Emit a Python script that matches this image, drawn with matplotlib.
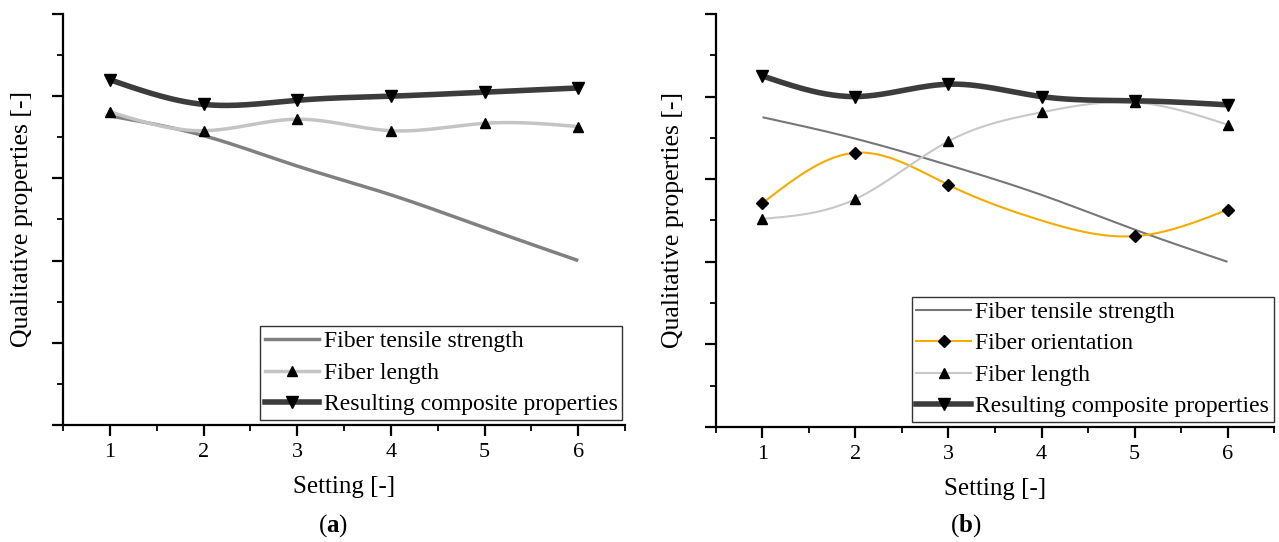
import numpy as np
import matplotlib
matplotlib.use("Agg")
import matplotlib.pyplot as plt
from matplotlib.ticker import MultipleLocator, NullFormatter

plt.rcParams['font.family'] = ['Liberation Serif', 'DejaVu Serif']
plt.rcParams['mathtext.fontset'] = 'custom'
plt.rcParams['mathtext.rm'] = 'Liberation Serif'
plt.rcParams['mathtext.bf'] = 'Liberation Serif:bold'

# ---------------------------------------------------------------- data
settings = [1, 2, 3, 4, 5, 6]

# panel (a)
a_tensile = [3.76, 3.52, 3.15, 2.80, 2.40, 2.00]
a_length = [3.81, 3.58, 3.72, 3.58, 3.67, 3.63]
a_result = [4.20, 3.90, 3.95, 4.00, 4.05, 4.10]

# panel (b)
b_tensile = [3.75, 3.49, 3.17, 2.81, 2.39, 2.00]
b_orient = [2.71, 3.32, 2.93, 2.50, 2.31, 2.63]
b_length = [2.52, 2.76, 3.46, 3.81, 3.93, 3.66]
b_result = [4.25, 4.00, 4.15, 4.00, 3.95, 3.90]

labels_a = ["Fiber tensile strength", "Fiber length", "Resulting composite properties"]
labels_b = ["Fiber tensile strength", "Fiber orientation", "Fiber length",
            "Resulting composite properties"]


def spline(x, y, n=200):
    # natural cubic spline, only used to draw the smoothed connecting line
    x = np.asarray(x, float)
    y = np.asarray(y, float)
    k = len(x)
    h = np.diff(x)
    A = np.zeros((k, k))
    r = np.zeros(k)
    A[0, 0] = A[-1, -1] = 1
    for i in range(1, k - 1):
        A[i, i - 1] = h[i - 1]
        A[i, i] = 2 * (h[i - 1] + h[i])
        A[i, i + 1] = h[i]
        r[i] = 3 * ((y[i + 1] - y[i]) / h[i] - (y[i] - y[i - 1]) / h[i - 1])
    c = np.linalg.solve(A, r)
    xs = np.linspace(x[0], x[-1], n)
    idx = np.clip(np.searchsorted(x, xs) - 1, 0, k - 2)
    dx = xs - x[idx]
    b = (y[1:] - y[:-1]) / h - h * (2 * c[:-1] + c[1:]) / 3
    d = (c[1:] - c[:-1]) / (3 * h)
    ys = y[idx] + b[idx] * dx + c[idx] * dx ** 2 + d[idx] * dx ** 3
    return xs, ys


def series(ax, y, color, lw, marker=None, ms=7, label=None, smooth=True, markidx=None):
    if smooth:
        xs, ys = spline(settings, y)
    else:
        xs, ys = settings, y
    ax.plot(xs, ys, color=color, lw=lw, solid_capstyle='butt', zorder=2)
    if marker:
        xm = settings if markidx is None else [settings[i] for i in markidx]
        ym = y if markidx is None else [y[i] for i in markidx]
        ax.plot(xm, ym, ls='none', marker=marker, ms=ms, color='black', zorder=3)
    # proxy for legend
    ax.plot([], [], color=color, lw=lw, marker=marker, ms=ms, mfc='black', mec='black',
            label=label)


def style_axes(ax, ylab_x):
    ax.set_xlim(0.5, 6.5)
    ax.set_ylim(0, 5)
    ax.spines['top'].set_visible(False)
    ax.spines['right'].set_visible(False)
    for s in ['left', 'bottom']:
        ax.spines[s].set_linewidth(1.6)
    ax.xaxis.set_major_locator(MultipleLocator(1))
    ax.xaxis.set_minor_locator(MultipleLocator(0.5))
    ax.yaxis.set_major_locator(MultipleLocator(1))
    ax.yaxis.set_minor_locator(MultipleLocator(0.5))
    ax.yaxis.set_major_formatter(NullFormatter())
    ax.tick_params(which='major', direction='out', length=8, width=1.6, labelsize=16,
                   pad=5)
    ax.tick_params(which='minor', direction='out', length=4, width=1.3)
    ax.set_xticks(settings)
    ax.set_xlabel("Setting [-]", fontsize=18, labelpad=10)
    ax.set_ylabel("Qualitative properties [-]", fontsize=18.5, va='center')
    ax.yaxis.set_label_coords(ylab_x, 0.5)


def legend(ax, anchor):
    leg = ax.legend(loc='lower right', bbox_to_anchor=anchor, fontsize=17,
                    frameon=True, fancybox=False, edgecolor='black', handlelength=2.3,
                    handletextpad=0.2, borderpad=0.2, labelspacing=0.42,
                    borderaxespad=0.0)
    leg.get_frame().set_linewidth(1.0)
    return leg


fig = plt.figure(figsize=(12.79, 5.42), dpi=100)
ax1 = fig.add_axes([0.0493, 0.2159, 0.4394, 0.7583])
ax2 = fig.add_axes([0.5598, 0.2122, 0.4363, 0.7620])

# ---- panel (a)
series(ax1, a_tensile, '#808080', 2.5, label=labels_a[0])
series(ax1, a_length, '#c4c4c4', 2.5, marker='^', label=labels_a[1])
series(ax1, a_result, '#3c3c3c', 4.0, marker='v', ms=9, label=labels_a[2])
style_axes(ax1, -0.073)
legend(ax1, (0.995, 0.012))

# ---- panel (b)
series(ax2, b_tensile, '#777777', 1.5, label=labels_b[0])
series(ax2, b_orient, '#f4ac00', 1.5, marker='D', ms=6, label=labels_b[1],
       markidx=[0, 1, 2, 4, 5])
series(ax2, b_length, '#c8c8c8', 1.5, marker='^', label=labels_b[2])
series(ax2, b_result, '#3c3c3c', 4.0, marker='v', ms=9, label=labels_b[3])
style_axes(ax2, -0.077)
legend(ax2, (1.0, 0.012))

fig.text(0.2600, 0.030, r"($\mathbf{a}$)", ha='center', va='center', fontsize=18)
fig.text(0.7550, 0.030, r"($\mathbf{b}$)", ha='center', va='center', fontsize=18)

fig.savefig("out.png", dpi=100)
